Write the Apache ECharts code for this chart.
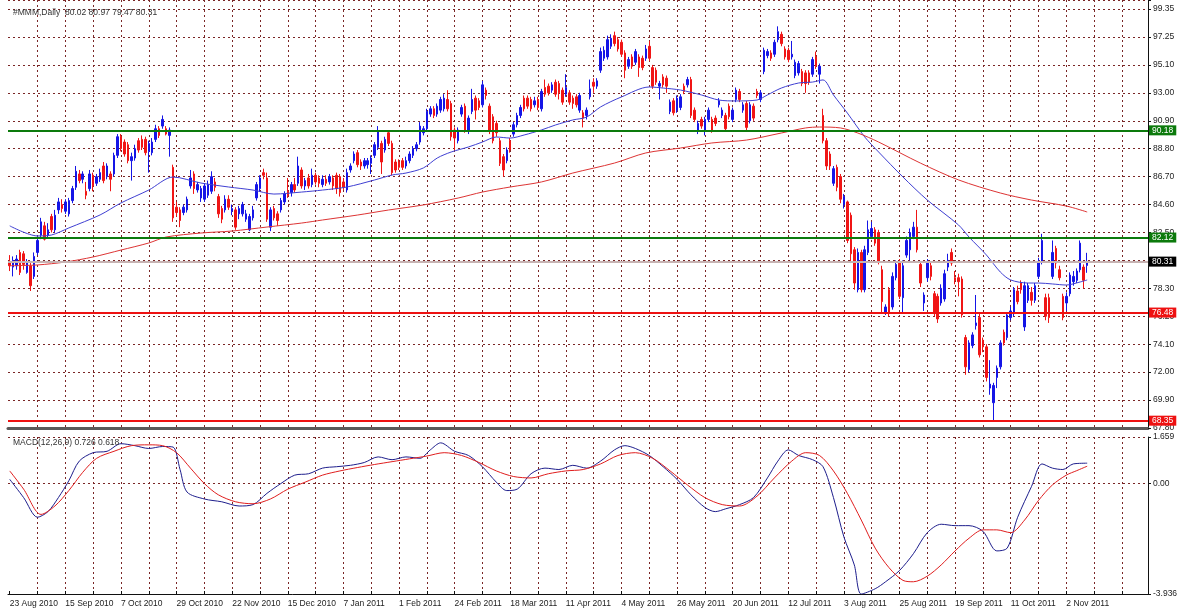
<!DOCTYPE html>
<html>
<head>
<meta charset="UTF-8">
<title>#MMM Daily</title>
<script src="https://cdn.jsdelivr.net/npm/echarts@6/dist/echarts.min.js"></script>
<style>
html, body { margin: 0; padding: 0; background: #fff; }
#chart { width: 1181px; height: 612px; }
</style>
</head>
<body>
<div id="chart"></div>
<script>
// date labels, one every 16 bars
var dateLabels = ['23 Aug 2010', '15 Sep 2010', '7 Oct 2010', '29 Oct 2010', '22 Nov 2010', '15 Dec 2010',
  '7 Jan 2011', '1 Feb 2011', '24 Feb 2011', '18 Mar 2011', '11 Apr 2011', '4 May 2011', '26 May 2011',
  '20 Jun 2011', '12 Jul 2011', '3 Aug 2011', '25 Aug 2011', '19 Sep 2011', '11 Oct 2011', '2 Nov 2011'];

var priceLabels = ['67.80', '69.90', '72.00', '74.10', '76.20', '78.30', '80.40', '82.50', '84.60',
  '86.70', '88.80', '90.90', '93.00', '95.10', '97.25', '99.35'];

// daily bars: [open, high, low, close]
var candles = [
  [80.3, 80.8, 79.6, 80.0], [79.9, 80.7, 79.2, 80.4], [80.0, 80.8, 79.7, 80.5], [81.0, 81.2, 79.3, 79.5],
  [80.9, 81.1, 79.7, 80.1], [79.5, 80.5, 79.4, 80.3], [80.0, 80.2, 78.1, 78.5], [79.2, 81.0, 79.0, 80.7],
  [81.0, 82.2, 80.8, 81.9], [82.3, 83.6, 82.0, 83.3], [83.0, 83.3, 81.9, 82.0], [82.3, 83.2, 82.1, 82.7],
  [83.7, 83.9, 82.5, 82.7], [82.7, 84.2, 82.5, 83.8], [84.2, 85.1, 83.9, 84.8], [84.6, 85.0, 84.0, 84.3],
  [84.1, 85.0, 83.9, 84.8], [83.9, 85.1, 83.7, 84.9], [84.9, 86.0, 84.7, 85.8], [85.9, 87.5, 85.7, 87.1],
  [86.9, 87.2, 86.2, 86.4], [86.5, 87.1, 86.2, 86.9], [85.6, 86.3, 85.0, 85.3], [85.8, 87.2, 85.6, 86.9],
  [86.8, 87.0, 85.6, 86.0], [86.2, 86.9, 86.0, 86.7], [86.5, 87.3, 86.3, 87.0], [87.5, 87.8, 86.2, 86.4],
  [86.7, 87.7, 86.5, 87.5], [86.9, 87.1, 85.6, 86.5], [86.9, 88.5, 86.7, 88.3], [88.3, 89.9, 88.1, 89.7],
  [89.7, 89.9, 88.6, 88.8], [89.3, 89.5, 88.2, 88.4], [89.1, 89.3, 87.7, 87.9], [87.9, 88.5, 86.4, 88.2],
  [88.1, 89.1, 87.9, 88.8], [89.4, 89.6, 88.5, 88.7], [89.5, 89.8, 88.7, 88.9], [89.5, 89.7, 88.3, 88.5],
  [88.6, 89.4, 87.0, 89.2], [88.5, 89.6, 88.3, 89.3], [89.5, 90.6, 89.3, 90.3], [90.3, 90.5, 89.6, 89.8],
  [90.5, 91.3, 90.3, 91.0], [90.3, 90.5, 89.8, 89.9], [89.8, 90.4, 88.2, 90.2], [87.4, 87.6, 83.3, 83.6],
  [84.4, 84.8, 83.7, 84.0], [84.2, 84.4, 82.9, 83.4], [84.0, 84.6, 83.8, 84.4], [84.2, 85.2, 84.0, 85.0],
  [86.0, 87.2, 85.8, 86.6], [86.9, 87.1, 85.4, 85.8], [85.7, 86.3, 85.5, 86.1], [85.1, 86.0, 84.8, 85.8],
  [85.0, 86.2, 84.8, 86.0], [85.3, 86.4, 85.1, 86.1], [85.6, 87.1, 85.4, 86.7], [86.3, 86.6, 85.6, 85.9],
  [85.2, 85.4, 83.6, 83.9], [84.3, 84.5, 83.2, 83.5], [84.2, 85.3, 84.0, 85.0], [85.0, 85.3, 84.2, 84.4],
  [84.1, 84.6, 83.8, 84.3], [84.2, 84.4, 82.7, 82.9], [83.9, 84.5, 83.5, 84.3], [83.9, 84.8, 83.7, 84.6],
  [83.5, 84.2, 83.3, 83.9], [82.7, 83.9, 82.6, 83.7], [83.6, 84.5, 83.4, 84.2], [85.1, 86.3, 84.9, 86.1],
  [85.8, 86.8, 85.6, 86.6], [87.0, 87.3, 86.5, 86.8], [86.6, 87.0, 83.3, 83.5], [82.9, 84.4, 82.6, 84.2],
  [84.3, 84.5, 83.4, 83.6], [83.9, 84.1, 83.0, 83.4], [84.2, 85.1, 84.0, 84.9], [84.8, 85.6, 84.6, 85.4],
  [85.6, 86.6, 85.1, 85.3], [85.5, 86.3, 85.2, 86.1], [86.1, 86.6, 85.5, 85.7], [86.2, 88.2, 86.0, 87.5],
  [87.2, 87.4, 85.8, 86.0], [86.0, 86.6, 85.7, 86.4], [86.6, 86.9, 85.8, 86.0], [86.1, 87.3, 85.9, 86.8],
  [86.8, 87.0, 86.1, 86.3], [86.6, 86.8, 85.9, 86.2], [86.1, 86.8, 85.9, 86.5], [86.5, 86.8, 86.0, 86.2],
  [86.3, 86.9, 86.1, 86.7], [86.6, 86.8, 85.7, 86.0], [86.8, 87.0, 85.4, 85.8], [86.7, 86.9, 85.2, 85.5],
  [86.3, 86.6, 85.7, 85.9], [85.7, 87.3, 85.5, 87.0], [87.2, 87.7, 87.0, 87.5], [87.9, 88.6, 87.7, 88.4],
  [88.5, 88.7, 87.4, 87.6], [87.8, 88.0, 87.2, 87.5], [87.5, 88.1, 87.3, 87.9], [87.6, 88.1, 87.3, 87.9],
  [87.7, 88.3, 86.9, 88.1], [88.3, 89.3, 88.1, 89.1], [88.9, 90.5, 88.7, 90.1], [89.2, 89.4, 86.9, 87.8],
  [88.7, 89.7, 88.5, 89.5], [90.0, 90.2, 89.0, 89.2], [89.2, 89.4, 86.8, 87.0], [87.8, 88.0, 87.0, 87.2],
  [87.8, 88.0, 87.2, 87.4], [87.9, 88.1, 87.2, 87.4], [87.5, 88.2, 87.3, 87.9], [87.9, 88.6, 87.7, 88.4],
  [88.3, 89.0, 88.1, 88.8], [88.8, 89.3, 88.6, 89.1], [89.3, 90.8, 89.1, 90.5], [90.0, 90.5, 89.8, 90.3],
  [90.3, 91.8, 90.1, 91.6], [91.4, 92.0, 91.2, 91.8], [91.8, 92.0, 91.1, 91.3], [91.4, 92.2, 91.2, 92.0],
  [91.7, 92.7, 91.5, 92.5], [91.8, 92.9, 91.6, 92.6], [92.5, 93.2, 91.6, 91.8], [92.2, 92.4, 89.4, 89.7],
  [90.2, 90.4, 88.7, 89.6], [89.4, 90.4, 89.2, 90.2], [91.4, 92.1, 91.2, 91.9], [92.0, 92.2, 90.0, 90.2],
  [90.1, 91.3, 89.9, 91.1], [91.6, 93.3, 91.4, 92.5], [92.6, 92.8, 91.0, 91.7], [92.4, 92.6, 91.7, 91.9],
  [92.1, 93.9, 91.9, 93.6], [93.2, 93.4, 92.5, 92.8], [92.0, 92.2, 89.9, 90.1], [91.2, 91.4, 89.2, 89.4],
  [90.7, 90.9, 89.7, 90.0], [89.4, 89.6, 87.5, 87.7], [88.2, 88.4, 86.7, 87.2], [87.9, 88.9, 87.7, 88.7],
  [89.4, 89.6, 88.5, 88.7], [89.9, 90.8, 89.7, 90.6], [90.6, 91.5, 90.4, 91.3], [91.3, 92.1, 91.1, 91.9],
  [92.6, 92.8, 91.6, 91.8], [92.6, 92.8, 91.8, 92.0], [92.5, 92.7, 91.6, 91.8], [92.1, 92.7, 91.9, 92.4],
  [92.5, 92.7, 91.7, 91.9], [91.8, 93.3, 91.6, 93.1], [93.4, 94.0, 92.7, 92.9], [93.5, 93.7, 92.8, 93.0],
  [93.2, 93.8, 93.0, 93.6], [93.8, 94.0, 92.7, 92.9], [93.7, 93.9, 92.5, 93.0], [93.2, 93.4, 92.1, 92.3],
  [92.9, 94.4, 92.7, 93.4], [93.0, 93.2, 92.1, 92.3], [92.6, 92.8, 91.8, 92.2], [92.7, 92.9, 91.9, 92.1],
  [91.7, 93.0, 91.5, 92.8], [91.5, 91.7, 90.4, 91.1], [91.3, 91.9, 91.0, 91.7], [92.7, 94.0, 92.5, 93.3],
  [93.8, 94.1, 93.0, 93.5], [93.5, 94.1, 93.3, 93.9], [94.7, 96.4, 94.5, 96.1], [95.6, 96.5, 95.4, 96.2],
  [95.7, 97.3, 95.5, 97.0], [96.5, 97.4, 96.3, 97.1], [97.3, 97.6, 96.5, 96.7], [97.0, 97.2, 96.1, 96.3],
  [96.8, 97.0, 95.7, 95.9], [96.0, 96.2, 94.1, 94.7], [95.0, 95.7, 94.8, 95.5], [95.7, 95.9, 94.8, 95.0],
  [95.3, 96.3, 95.1, 96.1], [95.7, 95.9, 94.2, 94.9], [95.6, 95.8, 94.7, 94.9], [95.6, 96.6, 95.4, 96.3],
  [96.5, 96.9, 95.4, 95.6], [94.9, 95.1, 93.3, 93.5], [94.7, 94.9, 93.6, 93.8], [93.5, 93.9, 92.5, 93.7],
  [94.2, 94.4, 93.4, 93.6], [94.1, 94.3, 93.0, 93.5], [91.6, 92.5, 91.4, 92.3], [92.4, 92.6, 91.3, 91.5],
  [91.7, 92.8, 91.5, 92.6], [91.9, 92.9, 91.7, 92.7], [93.5, 93.7, 92.9, 93.1], [93.6, 94.2, 93.4, 94.0],
  [94.0, 94.2, 91.1, 91.3], [91.7, 91.9, 90.8, 91.0], [90.1, 90.9, 89.9, 90.7], [91.0, 91.2, 90.3, 90.5],
  [90.2, 91.2, 89.8, 91.0], [91.0, 91.9, 90.8, 91.7], [91.0, 91.2, 90.0, 90.2], [91.1, 91.3, 90.5, 90.7],
  [92.1, 92.6, 91.9, 92.4], [91.3, 91.9, 91.1, 91.7], [91.3, 91.5, 90.1, 90.3], [92.0, 92.2, 91.0, 91.2],
  [91.0, 91.9, 90.8, 91.7], [92.5, 93.4, 92.3, 93.2], [93.1, 93.3, 92.3, 92.5], [91.7, 92.3, 91.5, 92.1],
  [92.2, 92.4, 90.2, 90.4], [90.9, 92.3, 90.7, 92.1], [92.0, 92.2, 90.9, 91.1], [93.1, 93.3, 92.6, 92.8],
  [92.5, 93.2, 92.3, 93.0], [94.6, 96.4, 94.4, 96.2], [95.8, 96.3, 95.6, 96.1], [96.0, 96.2, 95.4, 95.6],
  [95.9, 97.0, 95.7, 96.8], [97.0, 98.0, 96.8, 97.6], [97.4, 97.6, 96.5, 96.7], [96.3, 96.5, 95.5, 95.7],
  [96.2, 96.4, 95.3, 95.5], [95.7, 96.9, 95.5, 95.9], [94.3, 95.5, 94.1, 95.3], [94.5, 95.4, 94.3, 95.2],
  [94.6, 94.8, 93.5, 93.7], [94.5, 94.7, 93.0, 93.7], [94.5, 94.7, 93.6, 93.8], [94.4, 95.7, 94.2, 95.5],
  [95.7, 96.1, 94.8, 95.0], [94.4, 95.2, 93.7, 95.0], [91.3, 91.8, 89.2, 89.4], [89.4, 89.6, 87.2, 87.5],
  [88.4, 88.6, 87.2, 87.5], [86.2, 87.5, 86.0, 87.3], [87.4, 87.6, 85.6, 85.9], [86.7, 86.9, 84.7, 85.0],
  [84.6, 85.4, 84.3, 85.2], [84.8, 84.9, 81.7, 81.9], [83.8, 84.0, 80.2, 80.9], [81.2, 81.4, 78.2, 78.7],
  [78.2, 81.3, 78.0, 81.0], [81.0, 81.2, 78.0, 78.2], [78.2, 81.5, 78.0, 81.2], [81.0, 83.4, 80.8, 82.7],
  [82.2, 83.3, 82.0, 82.8], [82.7, 82.9, 81.5, 81.7], [82.5, 82.7, 80.1, 80.3], [79.7, 80.0, 76.4, 77.3],
  [76.5, 77.1, 76.3, 76.9], [78.2, 78.4, 76.2, 76.4], [76.9, 79.5, 76.7, 79.2], [79.1, 80.4, 78.9, 80.1],
  [80.2, 80.5, 77.5, 77.7], [77.6, 80.4, 76.4, 80.0], [80.8, 82.2, 80.6, 81.9], [81.2, 82.8, 80.4, 82.5],
  [82.2, 83.3, 82.0, 82.9], [82.9, 84.2, 81.0, 81.2], [80.1, 80.3, 78.4, 78.7], [77.2, 78.0, 76.6, 77.8],
  [79.1, 80.5, 78.8, 80.2], [80.0, 80.3, 78.9, 79.2], [77.9, 78.1, 76.2, 76.4], [77.7, 77.9, 75.7, 76.0],
  [77.2, 78.6, 77.0, 78.3], [77.5, 79.7, 77.3, 79.4], [79.9, 80.9, 79.6, 80.4], [81.0, 81.3, 80.0, 80.2],
  [79.1, 79.6, 78.6, 78.9], [79.1, 79.4, 77.7, 78.8], [79.0, 79.2, 76.1, 76.3], [74.6, 74.8, 71.8, 72.4],
  [72.2, 74.4, 72.0, 74.2], [74.0, 75.0, 73.8, 74.8], [75.5, 77.8, 75.2, 75.7], [76.1, 76.5, 73.1, 73.3],
  [74.4, 74.6, 73.5, 73.9], [73.9, 74.1, 71.3, 71.6], [70.8, 72.9, 70.3, 71.1], [69.7, 71.2, 68.4, 71.0],
  [71.6, 72.5, 70.8, 72.3], [72.4, 74.4, 72.2, 74.2], [75.0, 75.2, 74.0, 74.2], [74.6, 76.5, 74.4, 76.3],
  [76.1, 76.9, 75.9, 76.6], [76.4, 78.4, 76.2, 78.2], [78.1, 78.5, 77.1, 77.3], [78.7, 78.9, 77.9, 78.2],
  [75.4, 78.8, 75.1, 78.5], [77.4, 78.7, 77.2, 78.5], [78.0, 78.4, 77.0, 77.4], [77.4, 78.7, 77.2, 78.5],
  [79.2, 80.6, 79.0, 80.3], [80.3, 82.4, 80.1, 81.9], [77.6, 77.9, 75.9, 76.2], [77.6, 77.9, 75.7, 76.1],
  [79.2, 81.9, 79.0, 81.0], [81.3, 81.5, 79.8, 80.2], [79.7, 80.0, 78.9, 79.1], [77.7, 77.9, 75.9, 76.1],
  [77.2, 78.0, 76.6, 77.7], [77.9, 79.5, 77.7, 79.3], [78.8, 79.6, 78.5, 79.2], [78.9, 79.8, 78.7, 79.6],
  [79.7, 81.9, 79.5, 81.7], [79.9, 80.1, 78.3, 78.9], [80.02, 80.97, 79.47, 80.31]
];

// moving averages: [bar, value]
var maFast = [[0, 83.0], [8, 82.24], [12, 82.31], [17, 82.84], [26, 83.82], [32, 84.72], [40, 85.69],
  [47, 86.67], [55, 86.22], [63, 85.92], [70, 85.69], [76, 85.39], [84, 85.54], [90, 85.69], [97, 85.92],
  [105, 86.45], [110, 86.82], [114, 86.97], [119, 87.35], [123, 88.10], [127, 88.55], [132, 88.93],
  [136, 89.30], [140, 89.68], [144, 89.60], [148, 89.83], [153, 90.21], [157, 90.58], [162, 90.96],
  [166, 91.18], [170, 91.94], [176, 92.69], [184, 93.44], [188, 93.36], [193, 93.21], [199, 92.84],
  [204, 92.46], [209, 92.39], [215, 92.46], [218, 92.84], [222, 93.36], [227, 93.74], [231, 93.81],
  [234, 93.97], [237, 92.84], [241, 91.48], [246, 89.68], [250, 88.55], [257, 86.67], [264, 84.94],
  [273, 83.06], [276, 82.16], [281, 80.81], [285, 79.53], [288, 78.93], [293, 78.70], [296, 78.70],
  [300, 78.63], [304, 78.55], [308, 78.78], [310, 78.93]];

var maSlow = [[0, 80.0], [8, 80.06], [16, 80.28], [24, 80.66], [32, 81.18], [40, 81.71], [45, 82.16],
  [55, 82.46], [64, 82.61], [74, 82.91], [84, 83.21], [90, 83.44], [100, 83.81], [109, 84.19],
  [119, 84.57], [129, 85.09], [136, 85.54], [144, 85.92], [153, 86.30], [162, 86.97], [174, 87.72],
  [183, 88.48], [193, 88.85], [202, 89.23], [212, 89.45], [222, 89.98], [229, 90.36], [233, 90.43],
  [239, 90.36], [244, 89.98], [250, 89.30], [262, 87.72], [273, 86.45], [285, 85.47], [294, 84.94],
  [304, 84.49], [310, 84.04]];

// MACD(12,26,9): [bar, value]
var macdMain = [[0, 0.15], [4, -0.5], [8, -1.2], [11, -1.0], [14, -0.5], [17, 0.1], [20, 0.8], [24, 1.1],
  [28, 1.15], [32, 1.42], [36, 1.35], [40, 1.25], [44, 1.32], [47, 1.3], [49, 0.5], [51, -0.3], [56, -0.55],
  [61, -0.65], [66, -0.8], [70, -0.75], [74, -0.35], [78, 0.0], [82, 0.3], [86, 0.35], [90, 0.55], [94, 0.6],
  [98, 0.65], [102, 0.75], [106, 0.95], [110, 0.85], [114, 0.95], [118, 0.9], [121, 1.2], [124, 1.45],
  [128, 1.15], [132, 1.0], [136, 0.6], [140, 0.05], [143, -0.25], [146, -0.2], [150, 0.35], [154, 0.55],
  [158, 0.5], [162, 0.65], [166, 0.55], [170, 0.8], [174, 1.2], [177, 1.35], [180, 1.25], [184, 1.0],
  [188, 0.6], [192, 0.15], [196, -0.4], [200, -0.85], [203, -1.0], [206, -0.9], [210, -0.75], [214, -0.5],
  [218, 0.2], [221, 0.8], [224, 1.2], [227, 1.0], [231, 0.85], [234, 0.6], [237, -0.5], [240, -1.9],
  [243, -2.9], [245, -3.936], [249, -3.75], [252, -3.5], [256, -3.1], [260, -2.5], [264, -1.75],
  [268, -1.45], [272, -1.5], [276, -1.5], [280, -1.7], [284, -2.4], [287, -2.3], [290, -1.2], [294, -0.1],
  [297, 0.7], [300, 0.55], [303, 0.5], [306, 0.7], [310, 0.726]];

var macdSignal = [[0, 0.45], [4, -0.2], [9, -1.1], [13, -0.8], [17, -0.25], [21, 0.4], [25, 0.9], [30, 1.15],
  [35, 1.35], [40, 1.38], [44, 1.35], [48, 1.1], [52, 0.55], [56, 0.0], [60, -0.4], [65, -0.65], [70, -0.72],
  [75, -0.55], [80, -0.2], [85, 0.05], [90, 0.3], [95, 0.45], [100, 0.57], [105, 0.68], [110, 0.78],
  [115, 0.88], [120, 0.98], [125, 1.1], [130, 1.0], [135, 0.75], [140, 0.45], [145, 0.25], [150, 0.2],
  [155, 0.35], [160, 0.45], [165, 0.5], [170, 0.7], [175, 1.0], [180, 1.1], [185, 0.9], [190, 0.45],
  [195, -0.05], [200, -0.5], [205, -0.75], [210, -0.8], [215, -0.45], [220, 0.2], [225, 0.8], [229, 1.1],
  [233, 1.0], [237, 0.45], [241, -0.35], [245, -1.3], [249, -2.3], [253, -3.0], [257, -3.45], [260, -3.5],
  [264, -3.3], [268, -2.9], [272, -2.4], [276, -1.95], [280, -1.65], [284, -1.65], [288, -1.75], [292, -1.3],
  [296, -0.6], [300, -0.05], [304, 0.3], [307, 0.46], [310, 0.618]];

// horizontal levels drawn on the price panel
var levels = [90.18, 82.12, 80.31, 76.48, 68.35];
var levelLineColors = ['#0c7a0c', '#0c7a0c', '#c6b2b2', '#ee1111', '#ee1111'];
var levelBoxColors = ['#0c7a0c', '#0c7a0c', '#000000', '#ee1111', '#ee1111'];

var slotCount = 328;
var slots = [];
for (var i = 0; i < slotCount; i++) slots.push(String(i));

var FONT = 'Liberation Sans, Arial, sans-serif';
var gridLine = { color: '#7a2626', type: [2, 3], width: 1 };

var chart = echarts.init(document.getElementById('chart'), null, { renderer: 'canvas' });

var option = {
  animation: false,
  backgroundColor: '#ffffff',
  title: [
    { text: '#MMM,Daily  80.02 80.97 79.47 80.31', left: 13, top: 8, padding: 0,
      textStyle: { fontSize: 8.5, fontWeight: 'normal', color: '#333', fontFamily: FONT } },
    { text: 'MACD(12,26,9) 0.726 0.618', left: 13, top: 438, padding: 0,
      textStyle: { fontSize: 8.5, fontWeight: 'normal', color: '#333', fontFamily: FONT } }
  ],
  grid: [
    { left: 8, right: 33, top: 0, height: 428 },
    { left: 8, right: 33, top: 437, bottom: 18 }
  ],
  xAxis: [
    {
      type: 'category', gridIndex: 0, data: slots, boundaryGap: true,
      axisLine: { show: true, onZero: false, lineStyle: { color: '#5a5a5a', width: 3 } },
      axisTick: { show: false },
      axisLabel: { show: false },
      splitLine: {
        show: true, alignWithLabel: true,
        interval: function (idx) { return idx > 0 && idx % 8 === 0; },
        lineStyle: gridLine
      }
    },
    {
      type: 'category', gridIndex: 1, data: slots, boundaryGap: true,
      axisLine: { show: true, onZero: false, lineStyle: { color: '#111', width: 1 } },
      axisTick: {
        show: true, inside: true, length: 3, alignWithLabel: true,
        interval: function (idx) { return idx % 8 === 0; },
        lineStyle: { color: '#111' }
      },
      axisLabel: {
        interval: function (idx) { return idx % 16 === 0 && idx / 16 < dateLabels.length; },
        formatter: function (v) { return dateLabels[Number(v) / 16] || ''; },
        align: 'left', margin: 5, fontSize: 8.5, color: '#222', fontFamily: FONT
      },
      splitLine: {
        show: true, alignWithLabel: true,
        interval: function (idx) { return idx > 0 && idx % 8 === 0; },
        lineStyle: gridLine
      }
    }
  ],
  yAxis: [
    {
      type: 'value', gridIndex: 0, position: 'right', scale: true,
      min: 67.8, max: 99.98, interval: 2.1,
      axisLine: { show: true, lineStyle: { color: '#111', width: 1 } },
      axisTick: { show: true, length: 3, lineStyle: { color: '#111' } },
      axisLabel: {
        margin: 5, fontSize: 8.5, color: '#222', fontFamily: FONT,
        formatter: function (v) {
          var k = Math.round((v - 67.8) / 2.1);
          if (Math.abs(67.8 + k * 2.1 - v) > 0.01) return '';
          return priceLabels[k] || '';
        }
      },
      splitLine: { show: true, lineStyle: gridLine }
    },
    {
      type: 'value', gridIndex: 1, position: 'right', scale: true,
      min: -3.936, max: 1.659, interval: 3.936,
      axisLine: { show: true, lineStyle: { color: '#111', width: 1 } },
      axisTick: { show: true, length: 3, lineStyle: { color: '#111' } },
      axisLabel: {
        margin: 5, fontSize: 8.5, color: '#222', fontFamily: FONT,
        formatter: function (v) { return Math.abs(v) < 1e-9 ? '0.00' : v.toFixed(3); }
      },
      splitLine: { show: true, lineStyle: gridLine }
    }
  ],
  series: [
    {
      name: 'MMM', type: 'candlestick', xAxisIndex: 0, yAxisIndex: 0,
      barWidth: 2,
      data: candles.map(function (c) { return [c[0], c[3], c[2], c[1]]; }),
      itemStyle: {
        color: '#1515e6', color0: '#f01515',
        borderColor: '#1515e6', borderColor0: '#f01515', borderWidth: 1
      },
      markLine: {
        silent: true, symbol: ['none', 'none'], animation: false,
        data: levels.map(function (v, k) {
          return {
            yAxis: v,
            lineStyle: { color: levelLineColors[k], width: 2, type: 'solid' },
            label: {
              show: true, position: 'end', distance: 1,
              formatter: function () { return v.toFixed(2); },
              color: '#fff', backgroundColor: levelBoxColors[k],
              padding: [1, 3, 0, 3], fontSize: 8.5, fontFamily: FONT
            }
          };
        })
      }
    },
    {
      name: 'MA fast', type: 'line', xAxisIndex: 0, yAxisIndex: 0,
      data: maFast, showSymbol: false, smooth: 0.3,
      lineStyle: { color: '#3f3fd2', width: 1 }, z: 3
    },
    {
      name: 'MA slow', type: 'line', xAxisIndex: 0, yAxisIndex: 0,
      data: maSlow, showSymbol: false, smooth: 0.3,
      lineStyle: { color: '#dd3434', width: 1 }, z: 3
    },
    {
      name: 'MACD', type: 'line', xAxisIndex: 1, yAxisIndex: 1,
      data: macdMain, showSymbol: false, smooth: 0.3,
      lineStyle: { color: '#1e1e8c', width: 1 }
    },
    {
      name: 'Signal', type: 'line', xAxisIndex: 1, yAxisIndex: 1,
      data: macdSignal, showSymbol: false, smooth: 0.3,
      lineStyle: { color: '#e01e1e', width: 1 }
    }
  ]
};

chart.setOption(option);
</script>
</body>
</html>
